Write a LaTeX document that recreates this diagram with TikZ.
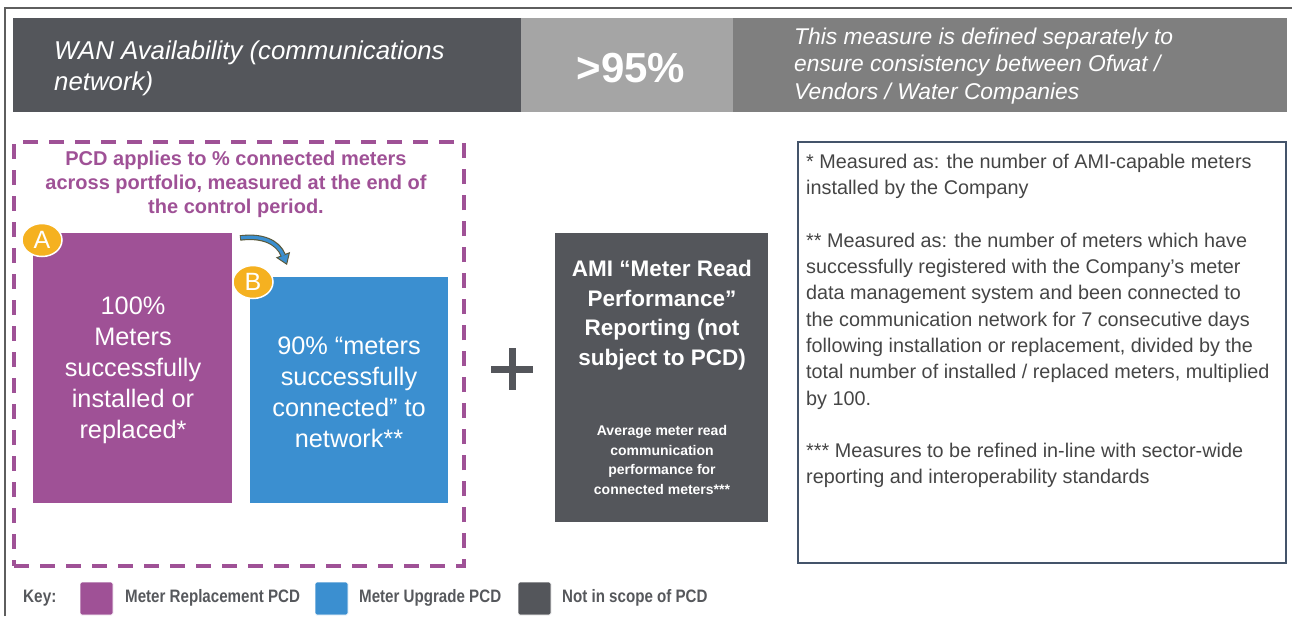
\documentclass[tikz,border=0pt]{standalone}
\usepackage{fontspec}
\usepackage{graphicx}
\setmainfont{Liberation Sans}
\usetikzlibrary{arrows.meta,shapes.geometric}

\definecolor{hdrdark}{HTML}{54565B}
\definecolor{hdrmid}{HTML}{A5A5A5}
\definecolor{hdrlight}{HTML}{7F7F7F}
\definecolor{pcdpurple}{HTML}{9F5196}
\definecolor{pcdblue}{HTML}{3B8FD0}
\definecolor{badgegold}{HTML}{F5B120}
\definecolor{framegray}{HTML}{5E5E5E}
\definecolor{notetext}{HTML}{454545}
\definecolor{noteborder}{HTML}{44546A}
\definecolor{arrowrim}{HTML}{5A5A3C}
\definecolor{keytext}{HTML}{56585C}

\tikzset{
  block/.style={anchor=north west, inner sep=0pt, outer sep=0pt},
  badge/.style={ellipse, fill=badgegold, draw=white, line width=1.5pt,
    minimum width=40pt, minimum height=33pt, inner sep=0pt, text=white,
    font=\fontsize{25}{25}\selectfont},
  keybox/.style={block, minimum width=33pt, minimum height=33pt,
    rounded corners=1.5pt, draw=white, line width=0.8pt},
  keylabel/.style={anchor=west, inner sep=0pt, text=keytext,
    font=\fontsize{18}{20}\selectfont\bfseries},
}

\begin{document}
\begin{tikzpicture}[x=1pt, y=-1pt]
\useasboundingbox (0,0) rectangle (1292,616);

% outer frame (top and left edges)
\coordinate (frBL) at (5,616);
\coordinate (frTL) at (5,8);
\coordinate (frTR) at (1292,8);
\draw[framegray, line width=2pt] (frBL) -- (frTL) -- (frTR);

% header band
\node[block, fill=hdrdark, minimum width=508pt, minimum height=94pt] (wan) at (13,18) {};
\node[block, fill=hdrmid, minimum width=212pt, minimum height=94pt] (target) at (521,18) {};
\node[block, fill=hdrlight, minimum width=554pt, minimum height=94pt] (defn) at (733,18) {};
\node[anchor=west, inner sep=0pt, align=left, text=white,
      font=\fontsize{25.8}{31}\selectfont\itshape] (wantxt) at (54,68)
      {WAN Availability (communications\\network)};
\node[inner sep=0pt, text=white, font=\fontsize{42}{46}\selectfont\bfseries]
      (targettxt) at (631,68) {>95\%};
\node[anchor=west, inner sep=0pt, align=left, text=white,
      font=\fontsize{22.8}{27.5}\selectfont\itshape] (defntxt) at (794,66)
      {This measure is defined separately to\\ensure consistency between Ofwat /\\Vendors / Water Companies};

% dashed PCD scope
\node[block, draw=pcdpurple, line width=4pt, dash pattern=on 15pt off 11pt,
      minimum width=450pt, minimum height=424pt] (scope) at (14,142) {};
\node[inner sep=0pt, align=center, text=pcdpurple,
      font=\fontsize{20}{24}\selectfont\bfseries] (scopetxt) at (236,184)
      {PCD applies to \% connected meters\\across portfolio, measured at the end of\\the control period.};

% meter replacement block
\node[block, fill=pcdpurple, minimum width=199pt, minimum height=270pt] (boxA) at (33,233) {};
\node[inner sep=0pt, align=center, text=white,
      font=\fontsize{25.3}{31}\selectfont] (boxAtxt) at (133,370)
      {100\%\\Meters\\successfully\\installed or\\replaced*};

% meter upgrade block
\node[block, fill=pcdblue, minimum width=198pt, minimum height=226pt] (boxB) at (250,277) {};
\node[inner sep=0pt, align=center, text=white,
      font=\fontsize{25.3}{31}\selectfont] (boxBtxt) at (349,392)
      {90\% “meters\\successfully\\connected” to\\network**};

\node[badge] (badgeA) at (42,240) {A};
\node[badge] (badgeB) at (253,282) {B};

% curved arrow from A to B
\coordinate (arrS) at (240,238);
\coordinate (arrE) at (287,265);
\draw[arrowrim, line width=5.5pt,
      -{Triangle[length=11pt, width=15pt, fill=pcdblue, line width=1pt]}]
      (arrS) .. controls (262,235) and (278,242) .. (arrE);
\draw[pcdblue, line width=3.2pt, shorten >=10pt, shorten <=0.8pt]
      (arrS) .. controls (262,235) and (278,242) .. (arrE);

% plus sign
\node[minimum size=41pt, inner sep=0pt] (plus) at (512,369) {};
\draw[hdrdark, line width=7pt] (plus.west) -- (plus.east);
\draw[hdrdark, line width=7pt] (plus.north) -- (plus.south);

% AMI reporting block
\node[block, fill=hdrdark, minimum width=213pt, minimum height=289pt] (ami) at (555,233) {};
\node[inner sep=0pt, align=center, text=white,
      font=\fontsize{22.5}{29.5}\selectfont\bfseries] (amititle) at (662,315)
      {AMI “Meter Read\\Performance”\\Reporting (not\\subject to PCD)};
\node[inner sep=0pt, align=center, text=white,
      font=\fontsize{14}{19.5}\selectfont\bfseries] (amisub) at (662,460)
      {Average meter read\\communication\\performance for\\connected meters***};

% footnotes
\node[block, draw=noteborder, line width=1.2pt, minimum width=488pt, minimum height=421pt] (notes) at (798,142) {};
\node[anchor=west, inner sep=0pt, align=left, text=notetext,
      font=\fontsize{19.8}{26.3}\selectfont] (notestxt) at (806,321)
      {* Measured as: the number of AMI-capable meters\\
       installed by the Company\\[26.3pt]
       ** Measured as: the number of meters which have\\
       successfully registered with the Company’s meter\\
       data management system and been connected to\\
       the communication network for 7 consecutive days\\
       following installation or replacement, divided by the\\
       total number of installed / replaced meters, multiplied\\
       by 100.\\[26.3pt]
       *** Measures to be refined in-line with sector-wide\\
       reporting and interoperability standards};

% key
\node[keylabel] (keyhead) at (23,598) {\scalebox{0.85}[1]{Key:}};
\node[keybox, fill=pcdpurple] (keyA) at (80,582) {};
\node[keylabel] (keyAtxt) at (125,598) {\scalebox{0.84}[1]{Meter Replacement PCD}};
\node[keybox, fill=pcdblue] (keyB) at (315,582) {};
\node[keylabel] (keyBtxt) at (359,598) {\scalebox{0.84}[1]{Meter Upgrade PCD}};
\node[keybox, fill=hdrdark] (keyC) at (518,582) {};
\node[keylabel] (keyCtxt) at (562,598) {\scalebox{0.84}[1]{Not in scope of PCD}};
\end{tikzpicture}
\end{document}
